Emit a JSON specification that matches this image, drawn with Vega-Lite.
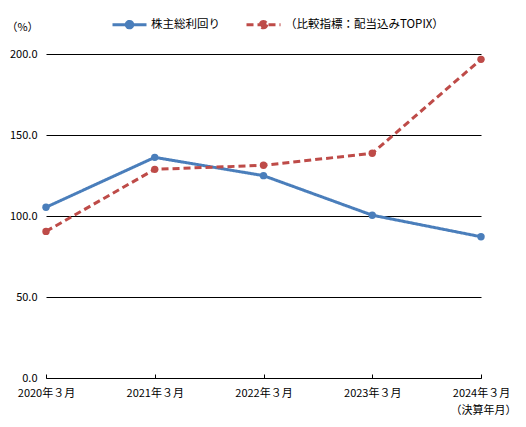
{
  "$schema": "https://vega.github.io/schema/vega-lite/v6.json",
  "autosize": "none",
  "width": 435,
  "height": 324,
  "padding": {"left": 46, "top": 54, "right": 45, "bottom": 49},
  "background": "white",
  "config": {
    "view": {"stroke": null},
    "font": "Noto Sans CJK JP"
  },
  "data": {
    "values": [
      {"period": "2020年３月", "series": "株主総利回り", "value": 105.4},
      {"period": "2021年３月", "series": "株主総利回り", "value": 136.2},
      {"period": "2022年３月", "series": "株主総利回り", "value": 124.9},
      {"period": "2023年３月", "series": "株主総利回り", "value": 100.5},
      {"period": "2024年３月", "series": "株主総利回り", "value": 87.2},
      {"period": "2020年３月", "series": "（比較指標：配当込みTOPIX）", "value": 90.5},
      {"period": "2021年３月", "series": "（比較指標：配当込みTOPIX）", "value": 128.8},
      {"period": "2022年３月", "series": "（比較指標：配当込みTOPIX）", "value": 131.3},
      {"period": "2023年３月", "series": "（比較指標：配当込みTOPIX）", "value": 138.7},
      {"period": "2024年３月", "series": "（比較指標：配当込みTOPIX）", "value": 196.7}
    ]
  },
  "mark": {"type": "line", "strokeWidth": 3, "point": {"filled": true, "size": 55}},
  "encoding": {
    "x": {
      "field": "period",
      "type": "ordinal",
      "sort": null,
      "scale": {"type": "point", "padding": 0},
      "axis": {
        "title": "（決算年月）",
        "titleFontSize": 11,
        "titleFontWeight": "normal",
        "titleColor": "black",
        "titleAlign": "right",
        "titleAnchor": null,
        "titleX": 470,
        "titleY": 32,
        "titleBaseline": "middle",
        "labelAngle": 0,
        "labelFontSize": 11,
        "labelColor": "black",
        "labelPadding": 13,
        "domainColor": "black",
        "tickColor": "black",
        "tickSize": -4,
        "grid": false
      }
    },
    "y": {
      "field": "value",
      "type": "quantitative",
      "scale": {"domain": [0, 200]},
      "axis": {
        "values": [0, 50, 100, 150, 200],
        "format": ".1f",
        "domain": false,
        "ticks": false,
        "labelPadding": 9,
        "labelFontSize": 11,
        "labelColor": "black",
        "gridColor": "black",
        "gridOpacity": 1,
        "title": "（%）",
        "titleAngle": 0,
        "titleFontSize": 11,
        "titleFontWeight": "normal",
        "titleColor": "black",
        "titleX": -24,
        "titleY": -27,
        "titleAlign": "center",
        "titleBaseline": "middle"
      }
    },
    "color": {
      "field": "series",
      "type": "nominal",
      "sort": null,
      "scale": {
        "domain": ["株主総利回り", "（比較指標：配当込みTOPIX）"],
        "range": ["#4a7ebb", "#be4b48"]
      },
      "legend": {
        "title": null,
        "orient": "none",
        "direction": "horizontal",
        "legendX": 65,
        "legendY": -48,
        "columnPadding": 20,
        "labelFontSize": 11.5,
        "labelColor": "black",
        "labelLimit": 300,
        "labelOffset": 3,
        "symbolType": "M-1,0H1M0.19,0A0.19,0.19,0,1,1,-0.19,0A0.19,0.19,0,1,1,0.19,0Z",
        "symbolSize": 1156,
        "symbolStrokeWidth": 3,
        "encode": {
          "symbols": {
            "update": {
              "fill": {"scale": "color", "field": "value"},
              "fillOpacity": {"value": 1}
            }
          }
        }
      }
    },
    "strokeDash": {
      "field": "series",
      "type": "nominal",
      "sort": null,
      "scale": {
        "domain": ["株主総利回り", "（比較指標：配当込みTOPIX）"],
        "range": [[1, 0], [7, 4]]
      }
    }
  }
}
